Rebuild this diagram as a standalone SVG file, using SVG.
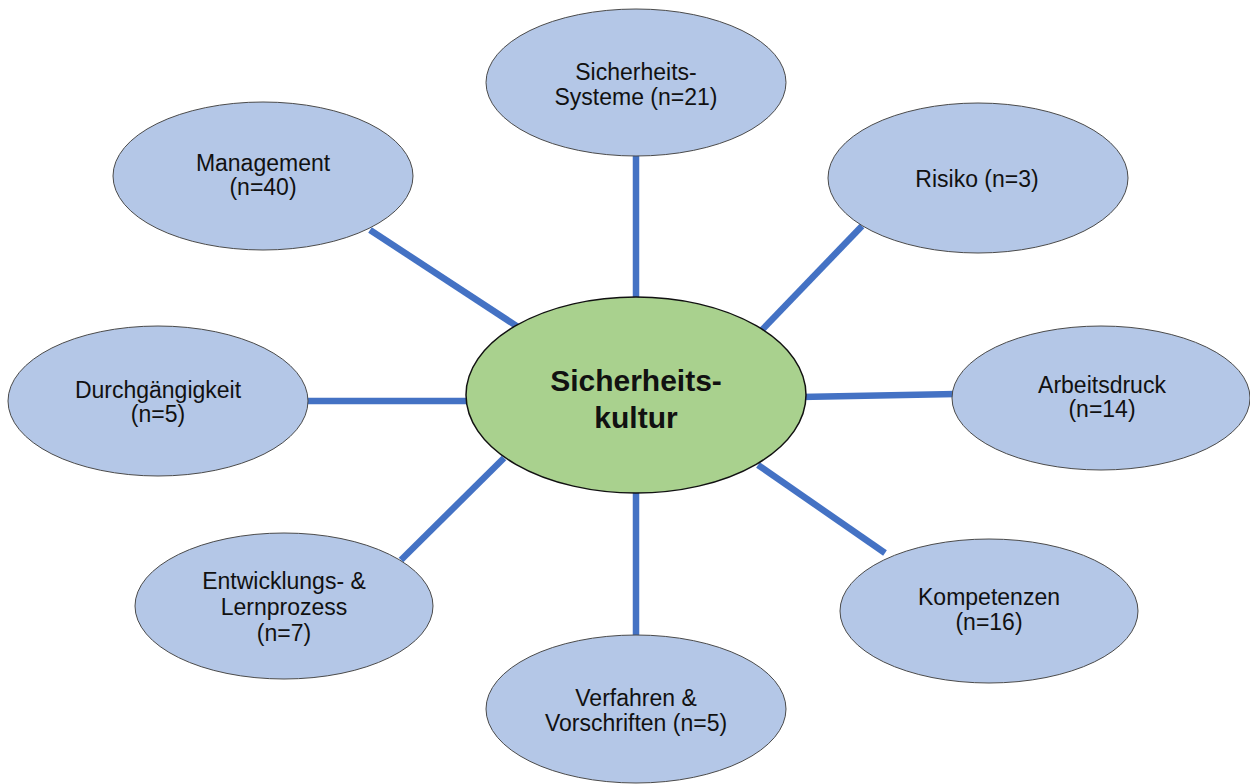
<svg xmlns="http://www.w3.org/2000/svg" width="1250" height="784" viewBox="0 0 1250 784">
<style>
.n{fill:#b4c7e7;stroke:#4a4a4a;stroke-width:1}
.c{fill:#a9d18e;stroke:#111;stroke-width:1.5}
.t{font-family:"Liberation Sans",Arial,sans-serif;font-size:23px;fill:#111;text-anchor:middle}
.tb{font-family:"Liberation Sans",Arial,sans-serif;font-size:30px;font-weight:bold;fill:#111;text-anchor:middle}
.l{stroke:#4472c4;stroke-width:6.5;fill:none}
</style>
<rect width="1250" height="784" fill="#fff"/>
<g id="connectors">
<line class="l" x1="636" y1="150" x2="636" y2="300"/>
<line class="l" x1="370" y1="230" x2="518" y2="327"/>
<line class="l" x1="862" y1="226" x2="760" y2="332"/>
<line class="l" x1="300" y1="401" x2="470" y2="401"/>
<line class="l" x1="800" y1="397" x2="956" y2="394"/>
<line class="l" x1="401" y1="560" x2="504" y2="458"/>
<line class="l" x1="885" y1="553" x2="758" y2="465"/>
<line class="l" x1="636" y1="490" x2="636" y2="640"/>
</g>
<g id="n-systeme"><ellipse class="n" cx="636" cy="82.5" rx="150" ry="73.5"/><text class="t" x="636" y="80">Sicherheits-</text><text class="t" x="636" y="105">Systeme (n=21)</text></g>
<g id="n-management"><ellipse class="n" cx="263" cy="176" rx="150" ry="74"/><text class="t" x="263" y="171">Management</text><text class="t" x="263" y="195">(n=40)</text></g>
<g id="n-risiko"><ellipse class="n" cx="978" cy="178" rx="150" ry="75"/><text class="t" x="977" y="187">Risiko (n=3)</text></g>
<g id="n-durch"><ellipse class="n" cx="158" cy="401" rx="150" ry="75"/><text class="t" x="158" y="398">Durchgängigkeit</text><text class="t" x="158" y="422">(n=5)</text></g>
<g id="n-center"><ellipse class="c" cx="636" cy="395" rx="170" ry="98"/><text class="tb" x="636" y="391">Sicherheits-</text><text class="tb" x="636" y="428">kultur</text></g>
<g id="n-arbeit"><ellipse class="n" cx="1101" cy="398" rx="149" ry="72"/><text class="t" x="1102" y="393">Arbeitsdruck</text><text class="t" x="1102" y="417">(n=14)</text></g>
<g id="n-entw"><ellipse class="n" cx="284" cy="606" rx="149" ry="73"/><text class="t" x="284" y="589">Entwicklungs- &amp;</text><text class="t" x="284" y="615">Lernprozess</text><text class="t" x="284" y="641">(n=7)</text></g>
<g id="n-komp"><ellipse class="n" cx="989" cy="611" rx="149" ry="72"/><text class="t" x="989" y="605">Kompetenzen</text><text class="t" x="989" y="630">(n=16)</text></g>
<g id="n-verf"><ellipse class="n" cx="636" cy="709" rx="150" ry="74"/><text class="t" x="636" y="706">Verfahren &amp;</text><text class="t" x="636" y="731">Vorschriften (n=5)</text></g>
</svg>
